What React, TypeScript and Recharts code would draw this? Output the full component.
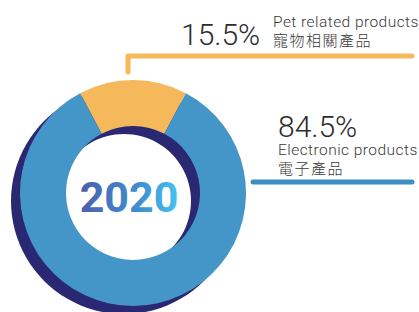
import React from "react";
import { PieChart, Pie, Cell, Customized } from "recharts";

const categories = ["Pet related products", "Electronic products"];
const categoriesZh = ["寵物相關產品", "電子產品"];
const values = [15.5, 84.5];
const valueLabels = ["15.5%", "84.5%"];
const colors = ["#f5b95c", "#4495c8"];
const yearLabel = "2020";

const data = categories.map((name, i) => ({ name, value: values[i] }));
const shadowData = [{ name: "shadow", value: 100 }];

const CX = 133;
const CY = 193;
const IR = 67;
const OR = 113;
const startAngle = 90 + (values[0] / 100) * 180;

const Labels = () => (
  <g>
    <defs>
      <linearGradient id="yearGrad" x1="0" y1="0" x2="1" y2="0">
        <stop offset="0%" stopColor="#4b5fae" />
        <stop offset="60%" stopColor="#3f8fd0" />
        <stop offset="100%" stopColor="#42c3f2" />
      </linearGradient>
    </defs>
    <text
      x={129}
      y={212}
      textAnchor="middle"
      fontFamily="Roboto"
      fontWeight={700}
      fontSize={43}
      fill="url(#yearGrad)"
    >
      {yearLabel}
    </text>
    {/* orange leader */}
    <polyline
      points="128,72 128,56 412,56"
      fill="none"
      stroke={colors[0]}
      strokeWidth={5}
      strokeLinecap="round"
      strokeLinejoin="round"
    />
    <text x={181} y={45} fontFamily="Roboto" fontWeight={300} fontSize={30} fill="#2d2d2d">
      {valueLabels[0]}
    </text>
    <text x={273} y={26.5} fontFamily="Roboto" fontWeight={300} fontSize={15.5} letterSpacing={0.45} fill="#3a3a3a">
      {categories[0]}
    </text>
    <text x={273} y={46} fontFamily="'Noto Sans CJK TC'" fontWeight={300} fontSize={15} letterSpacing={1.5} fill="#3a3a3a">
      {categoriesZh[0]}
    </text>
    {/* blue leader */}
    <line
      x1={253}
      y1={182}
      x2={412}
      y2={182}
      stroke="#3f8ec3"
      strokeWidth={5}
      strokeLinecap="round"
    />
    <text x={278} y={137} fontFamily="Roboto" fontWeight={300} fontSize={30} fill="#2d2d2d">
      {valueLabels[1]}
    </text>
    <text x={278} y={155} fontFamily="Roboto" fontWeight={300} fontSize={15.5} letterSpacing={0.45} fill="#3a3a3a">
      {categories[1]}
    </text>
    <text x={278} y={174} fontFamily="'Noto Sans CJK TC'" fontWeight={300} fontSize={15} letterSpacing={1.5} fill="#3a3a3a">
      {categoriesZh[1]}
    </text>
  </g>
);

export default function App() {
  return (
    <div style={{ position: "absolute", left: 0, top: 0, width: 419, height: 312, background: "#fff" }}>
      <PieChart width={419} height={312} margin={{ top: 0, right: 0, bottom: 0, left: 0 }}>
        <Pie
          data={shadowData}
          dataKey="value"
          cx={CX - 9}
          cy={CY + 8}
          innerRadius={IR}
          outerRadius={OR}
          startAngle={90}
          endAngle={-270}
          stroke="none"
          fill="#2b2873"
          isAnimationActive={false}
        />
        <Pie
          data={data}
          dataKey="value"
          cx={CX}
          cy={CY}
          innerRadius={IR}
          outerRadius={OR}
          startAngle={startAngle}
          endAngle={startAngle - 360}
          stroke="none"
          isAnimationActive={false}
        >
          {data.map((d, i) => (
            <Cell key={d.name} fill={colors[i]} />
          ))}
        </Pie>
        <Customized component={Labels} />
      </PieChart>
    </div>
  );
}
